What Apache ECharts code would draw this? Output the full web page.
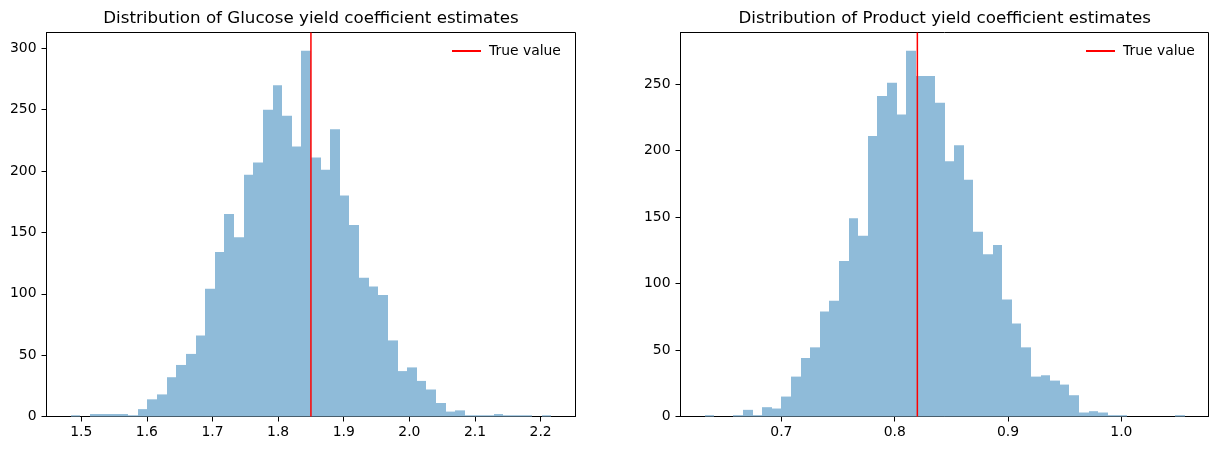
<!DOCTYPE html>
<html>
<head>
<meta charset="utf-8">
<script src="https://cdn.jsdelivr.net/npm/echarts@6/dist/echarts.min.js"></script>
<style>
html,body{margin:0;padding:0;background:#fff;}
#chart{width:1218px;height:451px;}
</style>
</head>
<body>
<div id="chart"></div>
<script>
// ---- data ----
const glucoseTitle = 'Distribution of Glucose yield coefficient estimates';
const productTitle = 'Distribution of Product yield coefficient estimates';
const glucoseRange = [1.4837, 2.2165];   // data min / max (50 bins)
const productRange = [0.6322, 1.0557];
const glucoseCounts = [1, 0, 2, 2, 2, 2, 1, 6, 14, 18, 32, 42, 51, 66, 104, 134, 165, 146, 197, 207,
  250, 270, 245, 220, 298, 211, 201, 234, 180, 156, 113, 106, 99, 62, 37, 40, 29, 22, 11, 4,
  5, 1, 1, 1, 2, 1, 1, 1, 0, 1];
const productCounts = [1, 0, 0, 1, 5, 1, 7, 6, 15, 30, 44, 52, 79, 87, 117, 149, 136, 211, 241, 251,
  227, 275, 256, 256, 236, 192, 204, 178, 139, 122, 129, 88, 70, 52, 30, 31, 27, 24, 16, 3,
  4, 3, 1, 1, 0, 0, 0, 0, 0, 1];
const glucoseTrue = 1.85;
const productTrue = 0.82;
const glucoseXTicks = [1.5, 1.6, 1.7, 1.8, 1.9, 2.0, 2.1, 2.2];
const productXTicks = [0.7, 0.8, 0.9, 1.0];
const glucoseYTicks = [0, 50, 100, 150, 200, 250, 300];
const productYTicks = [0, 50, 100, 150, 200, 250];
const legendLabel = 'True value';

// ---- build ----
const FONT = 'DejaVu Sans';
function bins(range, counts) {
  const n = counts.length, w = (range[1] - range[0]) / n;
  return counts.map((c, i) => [range[0] + i * w, range[0] + (i + 1) * w, c]);
}
function xLimits(range) {
  const r = range[1] - range[0];
  return [range[0] - 0.05 * r, range[1] + 0.05 * r];
}
const gL = xLimits(glucoseRange), pL = xLimits(productRange);
const gYmax = 1.05 * Math.max(...glucoseCounts);
const pYmax = 1.05 * Math.max(...productCounts);

function renderBar(params, api) {
  if (api.value(2) <= 0) return null;
  const p0 = api.coord([api.value(0), api.value(2)]);
  const p1 = api.coord([api.value(1), 0]);
  const x0 = Math.round(p0[0]), x1 = Math.round(p1[0]);
  const y1 = p1[1], y0 = Math.min(p0[1], y1 - 1);
  return {
    type: 'rect',
    shape: { x: x0, y: y0, width: x1 - x0, height: y1 - y0 },
    style: { fill: '#8fbbd9' }
  };
}
const tickStyle = { show: true, length: 5, lineStyle: { color: '#000', width: 1 } };
function xAxis(idx, lim, ticks) {
  return {
    type: 'value', gridIndex: idx, min: lim[0], max: lim[1],
    axisLine: { show: true, lineStyle: { color: '#000', width: 1 } },
    axisTick: Object.assign({ customValues: ticks }, tickStyle),
    axisLabel: { customValues: ticks, formatter: v => v.toFixed(1), color: '#000',
      fontFamily: FONT, fontSize: 13.9, margin: 9 },
    splitLine: { show: false }
  };
}
function yAxis(idx, max, ticks) {
  return {
    type: 'value', gridIndex: idx, min: 0, max: max,
    axisLine: { show: true, lineStyle: { color: '#000', width: 1 } },
    axisTick: Object.assign({ customValues: ticks }, tickStyle),
    axisLabel: { customValues: ticks, color: '#000', fontFamily: FONT, fontSize: 13.9, margin: 10 },
    splitLine: { show: false }
  };
}

const chart = echarts.init(document.getElementById('chart'), null, { renderer: 'canvas' });
chart.setOption({
  animation: false,
  backgroundColor: '#fff',
  title: [
    { text: glucoseTitle, left: 311, top: 10, textAlign: 'center', padding: 0,
      textStyle: { fontFamily: FONT, fontSize: 16.7, fontWeight: 'normal', color: '#000' } },
    { text: productTitle, left: 944.7, top: 10, textAlign: 'center', padding: 0,
      textStyle: { fontFamily: FONT, fontSize: 16.7, fontWeight: 'normal', color: '#000' } }
  ],
  legend: [
    { data: [legendLabel], left: 452, top: 44, padding: 0, itemWidth: 29, itemHeight: 2,
      icon: 'rect', itemStyle: { color: '#ff0000' }, selectedMode: false,
      textStyle: { fontFamily: FONT, fontSize: 13.9, color: '#000', padding: [0, 0, 0, 3] } },
    { data: [legendLabel], left: 1086, top: 44, padding: 0, itemWidth: 29, itemHeight: 2,
      icon: 'rect', itemStyle: { color: '#ff0000' }, selectedMode: false,
      textStyle: { fontFamily: FONT, fontSize: 13.9, color: '#000', padding: [0, 0, 0, 3] } }
  ],
  grid: [
    { left: 46.5, right: 1218 - 575.5, top: 32.5, bottom: 451 - 416.5, show: true,
      borderColor: '#000', borderWidth: 1, backgroundColor: 'transparent' },
    { left: 680.5, right: 1218 - 1208.5, top: 32.5, bottom: 451 - 416.5, show: true,
      borderColor: '#000', borderWidth: 1, backgroundColor: 'transparent' }
  ],
  xAxis: [xAxis(0, gL, glucoseXTicks), xAxis(1, pL, productXTicks)],
  yAxis: [yAxis(0, gYmax, glucoseYTicks), yAxis(1, pYmax, productYTicks)],
  series: [
    { type: 'custom', xAxisIndex: 0, yAxisIndex: 0, renderItem: renderBar,
      encode: { x: [0, 1], y: 2 }, data: bins(glucoseRange, glucoseCounts), silent: true },
    { type: 'custom', xAxisIndex: 1, yAxisIndex: 1, renderItem: renderBar,
      encode: { x: [0, 1], y: 2 }, data: bins(productRange, productCounts), silent: true },
    { type: 'line', name: legendLabel, xAxisIndex: 0, yAxisIndex: 0, showSymbol: false,
      symbol: 'none', silent: true, z: 5,
      lineStyle: { color: '#ff0000', width: 1.5 }, itemStyle: { color: '#ff0000' },
      data: [[glucoseTrue, 0], [glucoseTrue, gYmax]] },
    { type: 'line', name: legendLabel, xAxisIndex: 1, yAxisIndex: 1, showSymbol: false,
      symbol: 'none', silent: true, z: 5,
      lineStyle: { color: '#ff0000', width: 1.5 }, itemStyle: { color: '#ff0000' },
      data: [[productTrue, 0], [productTrue, pYmax]] }
  ]
});
</script>
</body>
</html>
